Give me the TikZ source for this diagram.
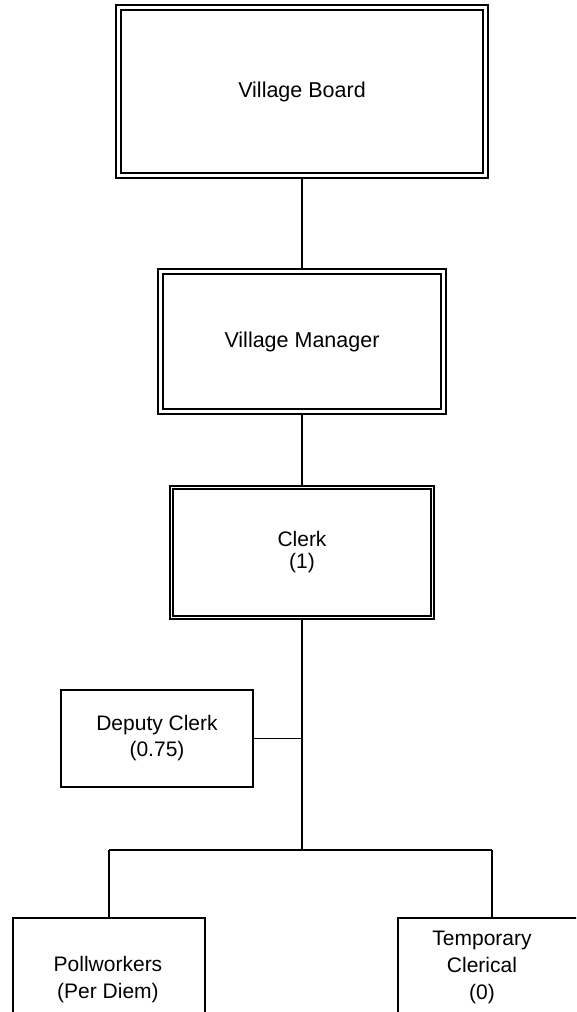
\documentclass[tikz,border=0pt]{standalone}
\usepackage{fontspec}
\setmainfont{Liberation Sans}
\begin{document}
\begin{tikzpicture}[x=1pt,y=-1pt,
 dbl/.style={draw, double, line width=1.6pt, double distance=3.4pt, inner sep=0pt, outer sep=3.3pt, font=\fontsize{21.5}{26}\selectfont, align=center},
 dblthin/.style={draw, double, line width=1.3pt, double distance=1.7pt, inner sep=0pt, outer sep=2.15pt, font=\fontsize{21}{22}\selectfont, align=center},
 sgl/.style={draw, line width=1.8pt, inner sep=0pt, font=\fontsize{21}{26}\selectfont, align=center},
 txt/.style={font=\fontsize{21}{27}\selectfont, align=center, inner sep=0pt},
 conn/.style={line width=1.8pt}]
\useasboundingbox (0,0) rectangle (576,1012);
\clip (0,0) rectangle (576,1012);
\node[dbl, minimum width=367pt, minimum height=168pt] (board) at (302,91.5) {Village Board};
\node[dbl, minimum width=283pt, minimum height=140pt] (manager) at (302,341.5) {Village Manager};
\node[dblthin, minimum width=261pt, minimum height=130pt] (clerk) at (302,552.5) {Clerk\\(1)};
\node[sgl, minimum width=192pt, minimum height=97pt] (deputy) at (157,738.5) {Deputy Clerk\\(0.75)};
\node[sgl, minimum width=192pt, minimum height=124pt] (poll) at (109,980) {};
\node[sgl, minimum width=188pt, minimum height=124pt] (temp) at (492,980) {};
\node[txt] (pollT) at (108,980) {Pollworkers\\(Per Diem)};
\node[txt] (tempT) at (482,967) {Temporary\\Clerical\\(0)};
\coordinate (bar) at (302,850);
\coordinate (barL) at (109,850);
\coordinate (barR) at (492,850);
\draw[conn] (board.south) -- (manager.north);
\draw[conn] (manager.south) -- (clerk.north);
\draw[conn] (clerk.south) -- (bar);
\draw[conn] (deputy.east) -- (deputy.east -| bar);
\draw[conn] (barL) -- (barR);
\draw[conn] (barL) -- (poll.north);
\draw[conn] (barR) -- (temp.north);
\end{tikzpicture}
\end{document}
